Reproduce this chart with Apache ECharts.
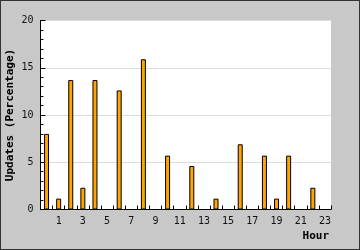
<!DOCTYPE html>
<html>
<head>
<meta charset="utf-8">
<script src="https://cdn.jsdelivr.net/npm/echarts@6/dist/echarts.min.js"></script>
<style>
  html, body { margin: 0; padding: 0; }
  #chart { width: 360px; height: 250px; box-sizing: border-box; border: 1px solid #333; background: #c8c8c8; }
</style>
</head>
<body>
<div id="chart"></div>
<script>
// hours of the day
var hours = [];
for (var h = 0; h < 24; h++) hours.push(String(h));

// updates per hour, percent
var updates = [8.0, 1.15, 13.7, 2.3, 13.7, 0, 12.6, 0, 15.9, 0, 5.7, 0,
               4.6, 0, 1.15, 0, 6.9, 0, 5.7, 1.15, 5.7, 0, 2.3, 0];

var yMin = 0, yMax = 20, yStep = 5;

var mono = 'DejaVu Sans Mono';

// empty hours draw no bar at all
var barData = updates.map(function (v) { return v === 0 ? '-' : v; });

var myChart = echarts.init(document.getElementById('chart'));
var option = {
    animation: false,
    backgroundColor: 'transparent',
    grid: {
        left: 39.5, right: 28, top: 19.5, bottom: 39.5,
        containLabel: false, outerBoundsMode: 'none',
        show: true, backgroundColor: '#fff', borderWidth: 0
    },
    xAxis: {
        type: 'category',
        data: hours,
        name: 'Hour',
        nameLocation: 'end',
        nameGap: -2,
        nameMoveOverlap: false,
        nameTextStyle: {
            fontFamily: mono, fontWeight: 'bold', fontSize: 11, color: '#000',
            align: 'right', verticalAlign: 'top', padding: [21, 0, 0, 0]
        },
        axisLine: { lineStyle: { color: '#000', width: 1 } },
        axisTick: { show: true, inside: true, length: 4, interval: 0, lineStyle: { color: '#000', width: 1 } },
        axisLabel: {
            fontFamily: mono, fontSize: 10, color: '#111', margin: 7,
            interval: function (idx) { return idx % 2 === 1; }
        },
        splitLine: { show: false }
    },
    yAxis: {
        type: 'value',
        min: yMin, max: yMax, interval: yStep,
        name: 'Updates (Percentage)',
        nameLocation: 'middle',
        nameGap: 25,
        nameMoveOverlap: false,
        nameTextStyle: { fontFamily: mono, fontWeight: 'bold', fontSize: 11, color: '#000' },
        axisLine: { show: true, lineStyle: { color: '#000', width: 1 } },
        axisTick: { show: true, inside: true, length: 5, lineStyle: { color: '#000' } },
        minorTick: { show: true, splitNumber: 5, length: 3, lineStyle: { color: '#000' } },
        axisLabel: { fontFamily: mono, fontSize: 10, color: '#111', margin: 7 },
        splitLine: { lineStyle: { color: '#dcdcdc' } }
    },
    series: [{
        type: 'bar',
        data: barData,
        barWidth: 5,
        itemStyle: { color: '#ffa500', borderColor: '#000', borderWidth: 1 }
    }]
};
myChart.setOption(option);
</script>
</body>
</html>
